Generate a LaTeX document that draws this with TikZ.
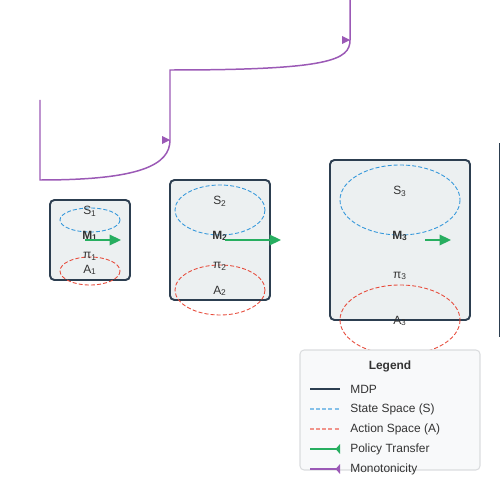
\documentclass[tikz,border=0pt]{standalone}
\usepackage{fontspec}
\setmainfont{Liberation Sans}
\usetikzlibrary{arrows.meta}
\definecolor{mdpdark}{HTML}{2C3E50}
\definecolor{mdpfill}{HTML}{ECF0F1}
\definecolor{statecol}{HTML}{3498DB}
\definecolor{actioncol}{HTML}{E74C3C}
\definecolor{policycol}{HTML}{27AE60}
\definecolor{monocol}{HTML}{9B59B6}
\definecolor{labelcol}{HTML}{333333}
\definecolor{legendfill}{HTML}{F8F9FA}
\definecolor{legenddraw}{HTML}{DADCDE}

\begin{document}
\begin{tikzpicture}[
    x=0.02cm, y=-0.02cm,
    mdp/.style={draw=mdpdark, line width=1.1pt, fill=mdpfill, rounded corners=2.5pt, inner sep=0pt},
    statespace/.style={draw=statecol, line width=0.5pt, dash pattern=on 2.3pt off 1.2pt},
    actionspace/.style={draw=actioncol, line width=0.5pt, dash pattern=on 2.3pt off 1.2pt},
    lbl/.style={text=labelcol, font=\fontsize{6.8}{8}\selectfont, inner sep=0pt},
    policy/.style={draw=policycol, line width=1pt, -{Triangle[length=6.5pt, width=6pt]}},
    mono/.style={draw=monocol, line width=0.85pt},
    legline/.style={line width=1pt}
]
\useasboundingbox (0,0) rectangle (500,500);

% MDP boxes
\node[mdp, minimum width=1.6cm, minimum height=1.6cm] (mdp1) at (90,240) {};
\node[mdp, minimum width=2cm, minimum height=2.4cm] (mdp2) at (220,240) {};
\node[mdp, minimum width=2.8cm, minimum height=3.2cm] (mdp3) at (400,240) {};

% state and action spaces
\draw[statespace] (90,220) ellipse [x radius=30, y radius=12];
\draw[actionspace] (90,271) ellipse [x radius=30, y radius=14];
\draw[statespace] (220,210) ellipse [x radius=45, y radius=25];
\draw[actionspace] (220,290) ellipse [x radius=45, y radius=25];
\draw[statespace] (400,200) ellipse [x radius=60, y radius=35];
\draw[actionspace] (400,320) ellipse [x radius=60, y radius=35];

% labels
\node[lbl] (s1) at (90,211) {S\textsubscript{1}};
\node[lbl, font=\fontsize{6.8}{8}\selectfont\bfseries] (m1) at (90,236) {M\textsubscript{1}};
\node[lbl] (pi1) at (90,256) {π\textsubscript{1}};
\node[lbl] (a1) at (90,270) {A\textsubscript{1}};
\node[lbl] (s2) at (220,201) {S\textsubscript{2}};
\node[lbl, font=\fontsize{6.8}{8}\selectfont\bfseries] (m2) at (220,236) {M\textsubscript{2}};
\node[lbl] (pi2) at (220,266) {π\textsubscript{2}};
\node[lbl] (a2) at (220,291) {A\textsubscript{2}};
\node[lbl] (s3) at (400,191) {S\textsubscript{3}};
\node[lbl, font=\fontsize{6.8}{8}\selectfont\bfseries] (m3) at (400,236) {M\textsubscript{3}};
\node[lbl] (pi3) at (400,276) {π\textsubscript{3}};
\node[lbl] (a3) at (400,321) {A\textsubscript{3}};

% policy transfer
\coordinate (p1a) at (85,240);
\coordinate (p1b) at (121,240);
\coordinate (p2a) at (225,240);
\coordinate (p2b) at (281,240);
\coordinate (p3a) at (425,240);
\coordinate (p3b) at (451,240);
\draw[policy] (p1a) -- (p1b);
\draw[policy] (p2a) -- (p2b);
\draw[policy] (p3a) -- (p3b);

% edge of the next MDP
\draw[mdpdark, line width=1.1pt] (499.5,143) -- (499.5,337);

% monotonicity
\coordinate (mono0) at (40,100);
\coordinate (mono1) at (170,140);
\coordinate (mono2) at (350,40);
\coordinate (mono3) at (350,0);
\draw[mono] (mono0) -- (40,180) .. controls (140,180) and (170,165) .. (mono1)
    -- (170,70) .. controls (330,70) and (350,60) .. (mono2) -- (mono3);
\fill[monocol] (162,136) -- (170,140) -- (162,144) -- cycle;
\fill[monocol] (342,36) -- (350,40) -- (342,44) -- cycle;

% legend
\node[draw=legenddraw, fill=legendfill, line width=0.6pt, rounded corners=2.3pt, minimum width=3.6cm, minimum height=2.4cm] (legend) at (390,410) {};
\node[lbl, font=\fontsize{6.8}{8}\selectfont\bfseries] (legtitle) at (390,366) {Legend};
\node[lbl, anchor=west] (legmdp) at (350,389) {MDP};
\node[lbl, anchor=west] (legstate) at (350,409) {State Space (S)};
\node[lbl, anchor=west] (legaction) at (350,429) {Action Space (A)};
\node[lbl, anchor=west] (legpolicy) at (350,449) {Policy Transfer};
\node[lbl, anchor=west] (legmono) at (350,469) {Monotonicity};
\draw[legline, mdpdark] (310,389) -- (340,389);
\draw[legline, statecol!60, dash pattern=on 2.3pt off 1.2pt] (310,409) -- (340,409);
\draw[legline, actioncol!60, dash pattern=on 2.3pt off 1.2pt] (310,429) -- (340,429);
\draw[legline, policycol, -{Triangle[reversed, length=2.5pt, width=5.5pt]}] (310,449) -- (340,449);
\draw[legline, monocol, -{Triangle[reversed, length=2.5pt, width=5.5pt]}] (310,469) -- (340,469);
\end{tikzpicture}
\end{document}
